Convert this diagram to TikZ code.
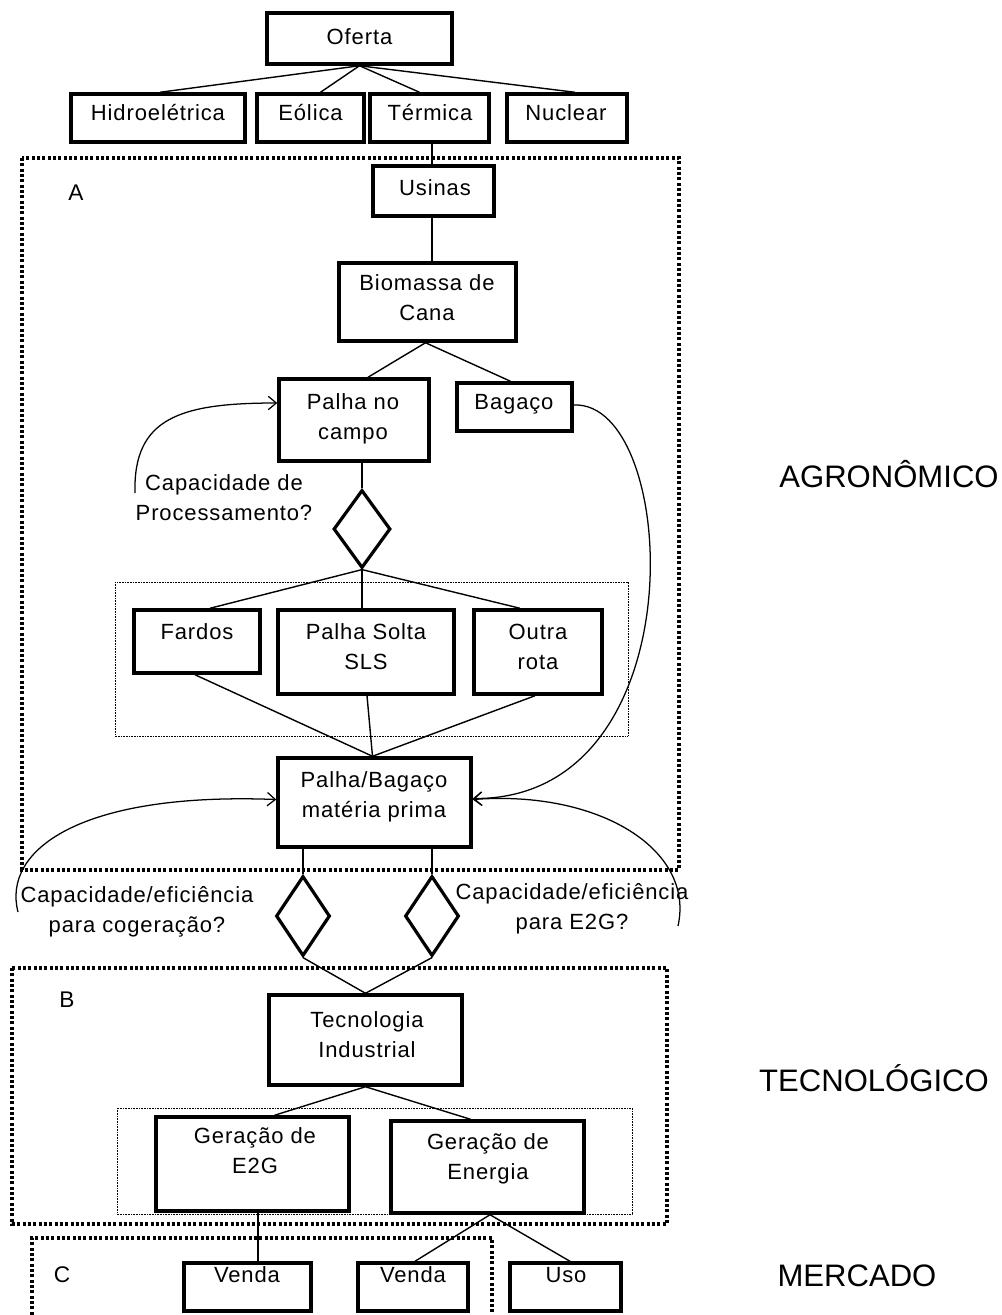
\documentclass[tikz,border=0pt]{standalone}
\usepackage{fontspec}
\setmainfont{Liberation Sans}
\newfontfamily\bxfont{Liberation Sans}[LetterSpace=4]
\usetikzlibrary{arrows.meta,calc,shapes.geometric}
\tikzset{
  box/.style={draw, line width=2.6pt, rectangle, inner sep=0pt},
  wh/.style n args={2}{minimum width=#1*0.75pt, minimum height=#2*0.75pt},
  txt/.style={font=\bxfont\fontsize{16.5pt}{22.5pt}\selectfont, align=center, text height=11.8pt, text depth=0pt, inner sep=0pt},
  conn/.style={line width=1.05pt},
  curv/.style={line width=0.95pt, -{Straight Barb[length=6pt,width=10pt]}},
  dec/.style={draw, diamond, line width=2.4pt, inner sep=0pt},
  bigdot/.style={line width=2.3pt, dash pattern=on 2.2pt off 1.8pt},
  thindot/.style={line width=0.6pt, dash pattern=on 0.6pt off 0.6pt},
  side/.style={font=\fontsize{23.3pt}{28pt}\selectfont, inner sep=0pt},
  lab/.style={font=\fontsize{17pt}{20pt}\selectfont, inner sep=0pt},
}
\begin{document}
\begin{tikzpicture}[x=0.75pt,y=-0.75pt]
\useasboundingbox (0,0) rectangle (1002,1315);

% group boxes
\draw[bigdot] (22,158) rectangle (679,870);
\draw[bigdot] (12,968) rectangle (667,1224);
\draw[bigdot] (32,1320) -- (32,1238) -- (492,1238) -- (492,1320);
\draw[thindot] (115,582) rectangle (628,736);
\draw[thindot] (117,1108) rectangle (632,1214);

\node[lab] (labA) at (76,193) {A};
\node[lab] (labB) at (67,1000) {B};
\node[lab] (labC) at (62,1275) {C};

% boxes (two-line texts are placed at their last line)
\node[box,wh={185}{51}] (oferta) at (359.5,38.5) {};
\node[txt] (oferta-t) at (359.5,37) {Oferta};

\node[box,wh={174}{48}] (hidro) at (158,118) {};
\node[txt] (hidro-t) at (158,113) {Hidroelétrica};
\node[box,wh={107}{48}] (eolica) at (310.5,118) {};
\node[txt] (eolica-t) at (310.5,113) {Eólica};
\node[box,wh={119}{48}] (termica) at (429.5,118) {};
\node[txt] (termica-t) at (430,113) {Térmica};
\node[box,wh={120}{48}] (nuclear) at (567,118) {};
\node[txt] (nuclear-t) at (566,113) {Nuclear};

\node[box,wh={121}{50}] (usinas) at (433.5,191) {};
\node[txt] (usinas-t) at (435,188) {Usinas};

\node[box,wh={177}{78}] (biomassa) at (427.5,302) {};
\node[txt] (biomassa-t) at (427,313) {Biomassa de\\Cana};

\node[box,wh={150}{82}] (palhacampo) at (354,420) {};
\node[txt] (palhacampo-t) at (353,432) {Palha no\\campo};
\node[box,wh={115}{48}] (bagaco) at (514.5,407) {};
\node[txt] (bagaco-t) at (514,402) {Bagaço};

\node[dec,minimum width=42.75pt,minimum height=58.5pt] (d1) at (362,529) {};
\node[txt] (cap1) at (224,513) {Capacidade de\\Processamento?};

\node[box,wh={126}{63}] (fardos) at (197,641.5) {};
\node[txt] (fardos-t) at (197,632) {Fardos};
\node[box,wh={176}{84}] (palhasolta) at (366,652) {};
\node[txt] (palhasolta-t) at (366,662) {Palha Solta\\SLS};
\node[box,wh={128}{84}] (outra) at (538,652) {};
\node[txt] (outra-t) at (538,662) {Outra\\rota};

\node[box,wh={193}{89}] (pbm) at (374.5,802.5) {};
\node[txt] (pbm-t) at (374,810) {Palha/Bagaço\\matéria prima};

\node[dec,minimum width=40.5pt,minimum height=60pt] (d2) at (303,916) {};
\node[dec,minimum width=40.5pt,minimum height=60pt] (d3) at (432,916) {};
\node[txt] (cap2) at (137,925) {Capacidade/eficiência\\para cogeração?};
\node[txt] (cap3) at (572,922) {Capacidade/eficiência\\para E2G?};

\node[box,wh={193}{90}] (tec) at (365.5,1040) {};
\node[txt] (tec-t) at (367,1050) {Tecnologia\\Industrial};

\node[box,wh={193}{94}] (e2g) at (252.5,1164) {};
\node[txt] (e2g-t) at (255,1166) {Geração de\\E2G};
\node[box,wh={193}{92}] (energia) at (487.5,1167) {};
\node[txt] (energia-t) at (488,1172) {Geração de\\Energia};

\node[box,wh={127}{48}] (venda1) at (247.5,1287) {};
\node[txt] (venda1-t) at (247,1275) {Venda};
\node[box,wh={110}{48}] (venda2) at (413,1287) {};
\node[txt] (venda2-t) at (413,1275) {Venda};
\node[box,wh={111}{48}] (uso) at (565.5,1287) {};
\node[txt] (uso-t) at (566,1275) {Uso};

% side labels
\node[side] (agro) at (889,474) {AGRONÔMICO};
\node[side] (tecno) at (874,1078) {TECNOLÓGICO};
\node[side] (merc) at (857,1276) {MERCADO};

% connectors
\draw[conn] (oferta.south) -- ($(hidro.north)+(2,0)$);
\draw[conn] (oferta.south) -- ($(eolica.north)+(10,0)$);
\draw[conn] (oferta.south) -- ($(termica.north)+(-10,0)$);
\draw[conn] (oferta.south) -- ($(nuclear.north)+(8,0)$);
\draw[conn] ($(termica.south)+(2.5,0)$) -- ($(usinas.north)+(-1.5,0)$);
\draw[conn] ($(usinas.south)+(-1.5,0)$) -- ($(biomassa.north)+(4.5,0)$);
\draw[conn] ($(biomassa.south)+(-2,0)$) -- ($(palhacampo.north)+(14,0)$);
\draw[conn] ($(biomassa.south)+(-2,0)$) -- ($(bagaco.north)+(-4,0)$);
\draw[conn] ($(palhacampo.south)+(8,0)$) -- (d1.north);
\draw[conn] (d1.south) -- ($(fardos.north)+(13,0)$);
\draw[conn] (d1.south) -- ($(palhasolta.north)+(-4,0)$);
\draw[conn] (d1.south) -- ($(outra.north)+(-18,0)$);
\draw[conn] ($(fardos.south)+(-2,0)$) -- ($(pbm.north)+(-2,0)$);
\draw[conn] ($(palhasolta.south)+(1,0)$) -- ($(pbm.north)+(-2,0)$);
\draw[conn] ($(outra.south)+(-3,0)$) -- ($(pbm.north)+(-2,0)$);
\draw[conn] (pbm.south -| d2.north) -- (d2.north);
\draw[conn] (pbm.south -| d3.north) -- (d3.north);
\draw[conn] (d2.south) -- (tec.north);
\draw[conn] (d3.south) -- (tec.north);
\draw[conn] (tec.south) -- ($(e2g.north)+(22,0)$);
\draw[conn] (tec.south) -- ($(energia.north)+(-17,0)$);
\draw[conn] ($(e2g.south)+(5.5,0)$) -- ($(venda1.north)+(10.5,0)$);
\draw[conn] ($(energia.south)+(2.5,0)$) -- ($(venda2.north)+(2,0)$);
\draw[conn] ($(energia.south)+(2.5,0)$) -- ($(uso.north)+(4.5,0)$);

% curved feedback arrows
\coordinate (c1s) at (135,493);
\draw[curv] (c1s) .. controls (133,418) and (180,403) .. ($(palhacampo.west)+(0,-17)$);
\draw[curv] ($(bagaco.east)+(0,-2)$) .. controls (680,400) and (700,800) .. ($(pbm.east)+(0,-4)$);
\coordinate (c3s) at (18,912);
\draw[curv] (c3s) .. controls (2,850) and (80,792) .. ($(pbm.west)+(0,-3)$);
\coordinate (c4s) at (678,926);
\draw[curv] (c4s) .. controls (695,850) and (600,790) .. ($(pbm.east)+(0,-3)$);
\end{tikzpicture}
\end{document}
